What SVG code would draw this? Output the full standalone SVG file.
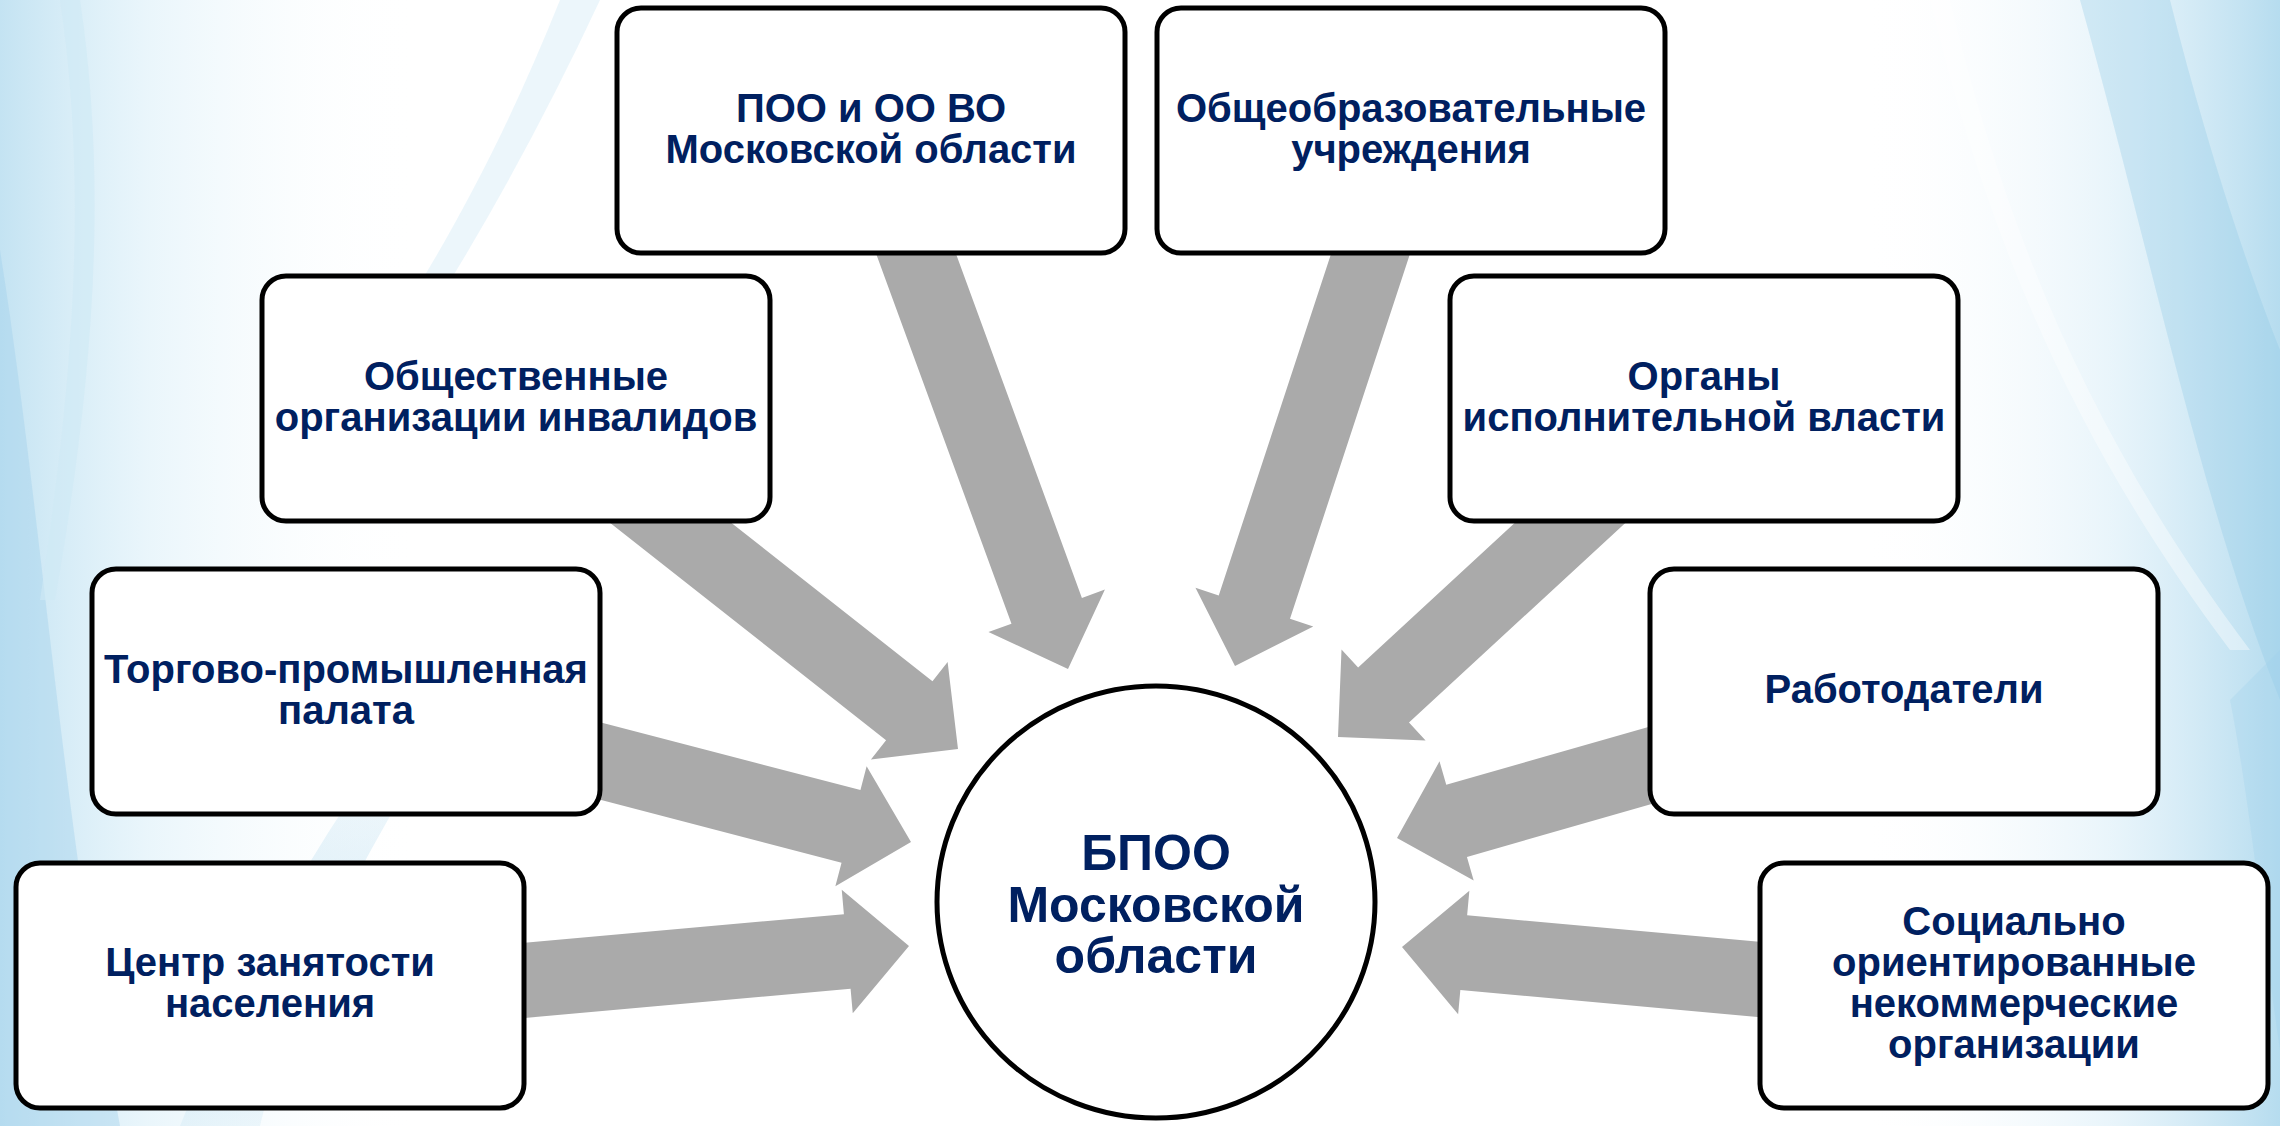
<svg xmlns="http://www.w3.org/2000/svg" width="2280" height="1126" viewBox="0 0 2280 1126">
  <defs>
    <linearGradient id="bgL" x1="0" y1="0" x2="1" y2="0">
      <stop offset="0" stop-color="#b9def0" stop-opacity="0.85"/>
      <stop offset="0.35" stop-color="#d8eef8" stop-opacity="0.55"/>
      <stop offset="1" stop-color="#ffffff" stop-opacity="0"/>
    </linearGradient>
    <linearGradient id="bgR" x1="1" y1="0" x2="0" y2="0">
      <stop offset="0" stop-color="#a9d6ec" stop-opacity="0.85"/>
      <stop offset="0.4" stop-color="#d6ecf7" stop-opacity="0.55"/>
      <stop offset="1" stop-color="#ffffff" stop-opacity="0"/>
    </linearGradient>
    <linearGradient id="streak" x1="0" y1="0" x2="0" y2="1">
      <stop offset="0" stop-color="#9fd0ea" stop-opacity="0.15"/>
      <stop offset="0.6" stop-color="#8cc8e6" stop-opacity="0.5"/>
      <stop offset="1" stop-color="#8cc8e6" stop-opacity="0.2"/>
    </linearGradient>
    <style>
      .box { fill: #ffffff; stroke: #000000; stroke-width: 5; }
      .arr { fill: #aaaaaa; }
      .t { font-family: "Liberation Sans", Arial, sans-serif; font-weight: bold; fill: #002060; text-anchor: middle; }
      .tb { font-size: 40px; }
      .tc { font-size: 50px; }
    </style>
  </defs>

  <g id="background">
    <rect x="0" y="0" width="2280" height="1126" fill="#ffffff"/>
    <rect x="0" y="0" width="420" height="1126" fill="url(#bgL)"/>
    <path d="M0,250 C40,500 60,800 120,1126 L0,1126 Z" fill="#9fd0ea" opacity="0.4"/>
    <path d="M180,1126 C250,950 330,820 420,700 L460,700 C380,830 300,960 260,1126 Z" fill="url(#streak)" opacity="0.6"/>
    <path d="M560,0 C500,150 430,280 330,420 L360,420 C450,290 530,150 600,0 Z" fill="#d4ecf7" opacity="0.45"/>
    <path d="M60,0 C90,200 70,400 40,600 L55,600 C90,400 110,200 80,0 Z" fill="#cfe9f5" opacity="0.6"/>
    <rect x="1860" y="0" width="420" height="1126" fill="url(#bgR)"/>
    <path d="M2080,0 C2150,250 2200,500 2280,700 L2280,350 C2240,250 2200,120 2170,0 Z" fill="#8cc8e6" opacity="0.3"/>
    <path d="M1930,0 C1990,250 2080,450 2230,650 L2250,650 C2100,450 2010,250 1950,0 Z" fill="#ffffff" opacity="0.4"/>
    <path d="M2230,700 C2250,800 2265,950 2280,1050 L2280,650 Z" fill="#9fd0ea" opacity="0.3"/>
  </g>

  <g id="connectors">
    <polygon class="arr" transform="translate(1068,669) rotate(69.9)" points="-465,-37.5 -62,-37.5 -62,-62 0,0 -62,62 -62,37.5 -465,37.5"/>
    <polygon class="arr" transform="translate(1235,666) rotate(108.2)" points="-458,-37.5 -62,-37.5 -62,-62 0,0 -62,62 -62,37.5 -458,37.5"/>
    <polygon class="arr" transform="translate(958,749) rotate(38.2)" points="-430,-37.5 -62,-37.5 -62,-62 0,0 -62,62 -62,37.5 -430,37.5"/>
    <polygon class="arr" transform="translate(911,842) rotate(14.6)" points="-340,-37.5 -62,-37.5 -62,-62 0,0 -62,62 -62,37.5 -340,37.5"/>
    <polygon class="arr" transform="translate(909,946) rotate(-5.1)" points="-400,-37.5 -62,-37.5 -62,-62 0,0 -62,62 -62,37.5 -400,37.5"/>
    <polygon class="arr" transform="translate(1338,737) rotate(137.3)" points="-370,-37.5 -62,-37.5 -62,-62 0,0 -62,62 -62,37.5 -370,37.5"/>
    <polygon class="arr" transform="translate(1397,838) rotate(164)" points="-285,-37.5 -62,-37.5 -62,-62 0,0 -62,62 -62,37.5 -285,37.5"/>
    <polygon class="arr" transform="translate(1402,947) rotate(185.2)" points="-372,-37.5 -62,-37.5 -62,-62 0,0 -62,62 -62,37.5 -372,37.5"/>
  </g>

  <g id="node-poo">
    <rect class="box" x="617" y="8" width="508" height="245" rx="24"/>
    <text class="t tb" x="871" y="122">ПОО и ОО ВО</text>
    <text class="t tb" x="871" y="163">Московской области</text>
  </g>
  <g id="node-obshcheobr">
    <rect class="box" x="1157" y="8" width="508" height="245" rx="24"/>
    <text class="t tb" x="1411" y="122">Общеобразовательные</text>
    <text class="t tb" x="1411" y="163">учреждения</text>
  </g>
  <g id="node-obshchestv">
    <rect class="box" x="262" y="276" width="508" height="245" rx="24"/>
    <text class="t tb" x="516" y="390">Общественные</text>
    <text class="t tb" x="516" y="431">организации инвалидов</text>
  </g>
  <g id="node-organy">
    <rect class="box" x="1450" y="276" width="508" height="245" rx="24"/>
    <text class="t tb" x="1704" y="390">Органы</text>
    <text class="t tb" x="1704" y="431">исполнительной власти</text>
  </g>
  <g id="node-tpp">
    <rect class="box" x="92" y="569" width="508" height="245" rx="24"/>
    <text class="t tb" x="346" y="683">Торгово-промышленная</text>
    <text class="t tb" x="346" y="724">палата</text>
  </g>
  <g id="node-rabotodateli">
    <rect class="box" x="1650" y="569" width="508" height="245" rx="24"/>
    <text class="t tb" x="1904" y="703">Работодатели</text>
  </g>
  <g id="node-czn">
    <rect class="box" x="16" y="863" width="508" height="245" rx="24"/>
    <text class="t tb" x="270" y="976">Центр занятости</text>
    <text class="t tb" x="270" y="1017">населения</text>
  </g>
  <g id="node-sonko">
    <rect class="box" x="1760" y="863" width="508" height="245" rx="24"/>
    <text class="t tb" x="2014" y="935">Социально</text>
    <text class="t tb" x="2014" y="976">ориентированные</text>
    <text class="t tb" x="2014" y="1017">некоммерческие</text>
    <text class="t tb" x="2014" y="1058">организации</text>
  </g>
  <g id="node-bpoo">
    <ellipse class="box" cx="1156" cy="902" rx="219" ry="216"/>
    <text class="t tc" x="1156" y="870">БПОО</text>
    <text class="t tc" x="1156" y="922">Московской</text>
    <text class="t tc" x="1156" y="973">области</text>
  </g>
</svg>
